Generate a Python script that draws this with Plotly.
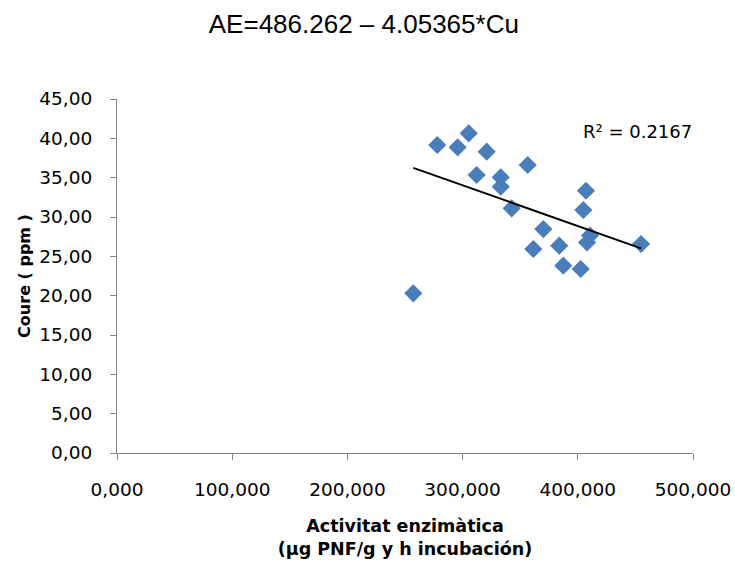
import numpy as np
import plotly.graph_objects as go

# Enzyme activity (µg PNF/g y h) and copper content (ppm) per sample
activitat = [257.2, 278.0, 295.7, 305.3, 320.9, 312.2, 333.1, 333.1, 356.5, 342.6,
             370.1, 361.4, 383.9, 387.4, 402.5, 407.1, 404.8, 410.6, 408.0, 454.9]
coure = [20.30, 39.15, 38.86, 40.64, 38.30, 35.34, 35.04, 33.85, 36.61, 31.10,
         28.47, 25.93, 26.35, 23.81, 23.39, 33.34, 30.89, 27.65, 26.76, 26.57]

x_ticks = [0, 100, 200, 300, 400, 500]
y_ticks = [0, 5, 10, 15, 20, 25, 30, 35, 40, 45]

# Least-squares linear trendline over the data range
slope, intercept = np.polyfit(activitat, coure, 1)
x_line = np.array([min(activitat), max(activitat)])
y_line = intercept + slope * x_line

blue = "#4A7EBB"
axis_grey = "#868686"
tick_font = dict(family="DejaVu Sans", size=18.5, color="#000000")

fig = go.Figure()
fig.add_trace(go.Scatter(
    x=activitat, y=coure, mode="markers",
    marker=dict(symbol="diamond", size=14, color=blue, line=dict(width=0)),
    showlegend=False,
))
fig.add_trace(go.Scatter(
    x=x_line, y=y_line, mode="lines",
    line=dict(color="#000000", width=2),
    showlegend=False,
))

fig.update_layout(
    width=735, height=564,
    margin=dict(l=117, r=42, t=99, b=111),
    paper_bgcolor="white", plot_bgcolor="white",
    separators=",.",
    title=dict(
        text="AE=486.262 – 4.05365*Cu",
        x=0.495, xanchor="center", y=0.958, yanchor="middle",
        font=dict(family="Liberation Sans", size=26, color="#000000"),
    ),
    xaxis=dict(
        range=[0, 500], tickvals=x_ticks, tickformat=".3f",
        showgrid=False, zeroline=False, automargin=False,
        showline=True, linecolor=axis_grey, linewidth=1,
        ticks="outside", ticklen=6, tickcolor=axis_grey,
        ticklabelstandoff=14,
        tickfont=tick_font,
        title=dict(text="<b>Activitat enzimàtica<br>(µg PNF/g y h incubación)</b>",
                   font=dict(family="DejaVu Sans", size=17.5, color="#000000"),
                   standoff=20),
    ),
    yaxis=dict(
        range=[0, 45], tickvals=y_ticks, tickformat=".2f",
        showgrid=False, zeroline=False, automargin=False,
        showline=True, linecolor=axis_grey, linewidth=1,
        ticks="outside", ticklen=6, tickcolor=axis_grey,
        ticklabelstandoff=14,
        tickfont=tick_font,
        title=dict(text="<b>Coure ( ppm )</b>",
                   font=dict(family="DejaVu Sans", size=16, color="#000000"),
                   standoff=4),
    ),
    annotations=[dict(
        text="R² = 0.2167", xref="paper", yref="paper",
        x=0.904, y=0.908, xanchor="center", yanchor="middle", showarrow=False,
        font=dict(family="DejaVu Sans", size=18, color="#000000"),
    )],
)

fig.write_html("out.html")
